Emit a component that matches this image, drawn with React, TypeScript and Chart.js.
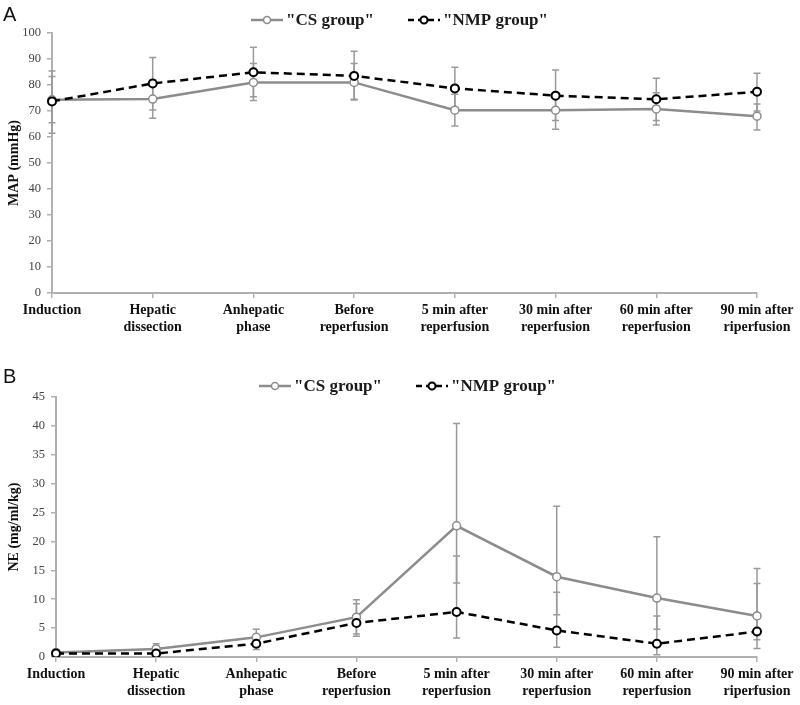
import { useEffect, useRef } from "react";
import { Chart, registerables } from "chart.js";

Chart.register(...registerables);

const stages = [
  ["Induction"],
  ["Hepatic", "dissection"],
  ["Anhepatic", "phase"],
  ["Before", "reperfusion"],
  ["5 min after", "reperfusion"],
  ["30 min after", "reperfusion"],
  ["60 min after", "reperfusion"],
  ["90 min after", "riperfusion"],
];

// MAP (mmHg), panel A
const mapCs = [74.3, 74.6, 81, 81, 70.3, 70.3, 70.8, 68];
const mapNmp = [73.7, 80.6, 84.9, 83.5, 78.7, 75.9, 74.5, 77.4];
const mapCsLow = [65.5, 67.2, 74, 74.2, 64.2, 63, 64.6, 62.7];
const mapCsHigh = [83.3, 82, 88.3, 88.3, 76.4, 77, 77, 72.7];
const mapNmpLow = [61.4, 70.4, 75.5, 74.5, 71, 66.3, 66.3, 70];
const mapNmpHigh = [85.4, 90.6, 94.5, 93, 86.8, 85.8, 82.6, 84.5];

// NE (mg/ml/kg), panel B
const neCs = [0.8, 1.4, 3.4, 6.9, 22.7, 13.9, 10.2, 7.1];
const neNmp = [0.6, 0.6, 2.3, 5.9, 7.8, 4.6, 2.3, 4.4];
const neCsLow = [0.4, 0.6, 2.0, 4.0, 12.8, 7.3, 4.8, 3.0];
const neCsHigh = [1.2, 2.3, 4.8, 9.9, 40.4, 26.1, 20.8, 15.3];
const neNmpLow = [0.2, 0.2, 1.3, 3.6, 3.3, 1.7, 0.4, 1.45];
const neNmpHigh = [1.0, 1.0, 3.3, 9.2, 17.5, 11.2, 7.1, 12.7];

const CS_COLOR = "#8c8c8c";
const ERR_COLOR = "#9a9a9a";
const AXIS_COLOR = "#b0b0b0";
const SERIF = "'Liberation Serif', 'Times New Roman', serif";

const errorBars = {
  id: "errorBars",
  beforeDatasetsDraw(chart: any) {
    const ctx = chart.ctx;
    const y = chart.scales.y;
    ctx.save();
    ctx.strokeStyle = ERR_COLOR;
    ctx.lineWidth = 1.5;
    chart.data.datasets.forEach((ds: any, i: number) => {
      const meta = chart.getDatasetMeta(i);
      meta.data.forEach((pt: any, j: number) => {
        const top = y.getPixelForValue(ds.errHigh[j]);
        const bot = y.getPixelForValue(ds.errLow[j]);
        ctx.beginPath();
        ctx.moveTo(pt.x, top);
        ctx.lineTo(pt.x, bot);
        ctx.moveTo(pt.x - 3.5, top);
        ctx.lineTo(pt.x + 3.5, top);
        ctx.moveTo(pt.x - 3.5, bot);
        ctx.lineTo(pt.x + 3.5, bot);
        ctx.stroke();
      });
    });
    ctx.restore();
  },
};

const seriesLegend = {
  id: "seriesLegend",
  afterDraw(chart: any, _args: any, opts: any) {
    const ctx = chart.ctx;
    const y = opts.y;
    ctx.save();
    opts.items.forEach((item: any) => {
      ctx.strokeStyle = item.color;
      ctx.lineWidth = 2.5;
      ctx.setLineDash(item.dash);
      ctx.beginPath();
      ctx.moveTo(item.x, y);
      ctx.lineTo(item.x + 32, y);
      ctx.stroke();
      ctx.setLineDash([]);
      ctx.fillStyle = "#fff";
      ctx.lineWidth = item.pointWidth;
      ctx.beginPath();
      ctx.arc(item.x + 16, y, 3.5, 0, Math.PI * 2);
      ctx.fill();
      ctx.stroke();
      ctx.fillStyle = "#1a1a1a";
      ctx.font = `bold 17px ${SERIF}`;
      ctx.textBaseline = "middle";
      ctx.fillText(item.label, item.x + 35, y + 1);
    });
    ctx.restore();
  },
};

type PanelProps = {
  height: number;
  yMax: number;
  yStep: number;
  yTitle: string;
  cs: number[];
  nmp: number[];
  csLow: number[];
  csHigh: number[];
  nmpLow: number[];
  nmpHigh: number[];
  plotTop: number;
  plotBottom: number;
  plotLeft: number;
  legendY: number;
  legendX: number;
};

function Panel(p: PanelProps) {
  const canvasRef = useRef<HTMLCanvasElement>(null);

  useEffect(() => {
    if (!canvasRef.current) return;
    const chart = new Chart(canvasRef.current, {
      type: "line",
      data: {
        labels: stages,
        datasets: [
          {
            label: '"CS group"',
            data: p.cs,
            errLow: p.csLow,
            errHigh: p.csHigh,
            borderColor: CS_COLOR,
            borderWidth: 2.5,
            pointRadius: 4,
            pointBackgroundColor: "#fff",
            pointBorderColor: CS_COLOR,
            pointBorderWidth: 1.5,
            order: 1,
          } as any,
          {
            label: '"NMP group"',
            data: p.nmp,
            errLow: p.nmpLow,
            errHigh: p.nmpHigh,
            borderColor: "#000",
            borderWidth: 2.5,
            borderDash: [8, 5],
            pointRadius: 4,
            pointBackgroundColor: "#fff",
            pointBorderColor: "#000",
            pointBorderWidth: 2,
            order: 0,
          } as any,
        ],
      },
      options: {
        responsive: false,
        animation: false,
        layout: { padding: { top: p.plotTop, right: 43, left: 0, bottom: 0 } },
        scales: {
          x: {
            type: "category",
            offset: false,
            grid: {
              display: true,
              drawOnChartArea: false,
              drawTicks: true,
              tickLength: 5,
              color: AXIS_COLOR,
              lineWidth: 1.5,
            },
            border: { color: AXIS_COLOR, width: 2 },
            ticks: {
              autoSkip: false,
              maxRotation: 0,
              padding: 4,
              color: "#111",
              font: { family: SERIF, size: 14, weight: "bold", lineHeight: 1.2 },
            },
            afterFit(scale: any) {
              scale.height = p.height - p.plotBottom;
            },
          },
          y: {
            min: 0,
            max: p.yMax,
            grid: {
              display: true,
              drawOnChartArea: false,
              drawTicks: true,
              tickLength: 5,
              color: AXIS_COLOR,
              lineWidth: 1.5,
            },
            border: { color: AXIS_COLOR, width: 2 },
            ticks: {
              stepSize: p.yStep,
              padding: 6,
              color: "#444",
              font: { family: SERIF, size: 12.5 },
            },
            title: {
              display: true,
              text: p.yTitle,
              color: "#111",
              padding: { top: 6, bottom: 0 },
              font: { family: SERIF, size: 14, weight: "bold" },
            },
            afterFit(scale: any) {
              scale.width = p.plotLeft;
            },
          },
        },
        plugins: {
          legend: { display: false },
          tooltip: { enabled: false },
          seriesLegend: {
            y: p.legendY,
            items: [
              { x: p.legendX, label: '"CS group"', color: CS_COLOR, dash: [], pointWidth: 1.5 },
              { x: p.legendX + 157, label: '"NMP group"', color: "#000", dash: [6, 4], pointWidth: 2 },
            ],
          },
        } as any,
      },
      plugins: [errorBars, seriesLegend],
    });
    return () => chart.destroy();
  }, []);

  return <canvas ref={canvasRef} width={800} height={p.height} style={{ display: "block", width: 800, height: p.height }} />;
}

const letterStyle: React.CSSProperties = {
  position: "absolute",
  left: 3,
  fontFamily: "'Liberation Sans', Arial, sans-serif",
  fontSize: 20,
  lineHeight: 1,
  color: "#111",
};

export default function App() {
  return (
    <div style={{ position: "absolute", left: 0, top: 0, width: 800, height: 705, background: "#fff" }}>
      <div style={{ position: "absolute", left: 0, top: 0 }}>
        <Panel
          height={340}
          yMax={100}
          yStep={10}
          yTitle="MAP (mmHg)"
          cs={mapCs}
          nmp={mapNmp}
          csLow={mapCsLow}
          csHigh={mapCsHigh}
          nmpLow={mapNmpLow}
          nmpHigh={mapNmpHigh}
          plotTop={33}
          plotBottom={293}
          plotLeft={52}
          legendY={20}
          legendX={251}
        />
      </div>
      <div style={{ position: "absolute", left: 0, top: 345 }}>
        <Panel
          height={360}
          yMax={45}
          yStep={5}
          yTitle="NE (mg/ml/kg)"
          cs={neCs}
          nmp={neNmp}
          csLow={neCsLow}
          csHigh={neCsHigh}
          nmpLow={neNmpLow}
          nmpHigh={neNmpHigh}
          plotTop={52}
          plotBottom={312}
          plotLeft={56}
          legendY={41}
          legendX={259}
        />
      </div>
      <div style={{ ...letterStyle, top: 4 }}>A</div>
      <div style={{ ...letterStyle, top: 366 }}>B</div>
    </div>
  );
}
